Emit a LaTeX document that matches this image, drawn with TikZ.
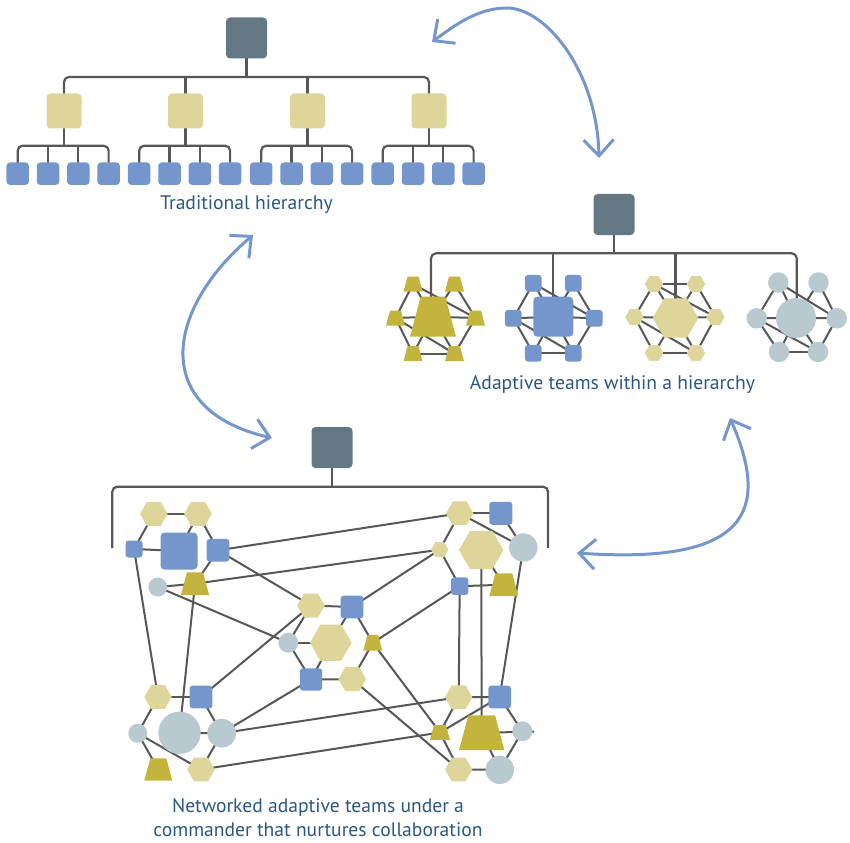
\documentclass[tikz,border=0pt]{standalone}
\usepackage{fontspec}
\setmainfont{PT Sans}
\usetikzlibrary{shapes.geometric,arrows.meta,backgrounds}
\definecolor{slate}{HTML}{637883}
\definecolor{tanc}{HTML}{DDD599}
\definecolor{blu}{HTML}{7596CC}
\definecolor{olv}{HTML}{C2B43C}
\definecolor{gry}{HTML}{B9C9D0}
\definecolor{lnc}{HTML}{575757}
\definecolor{txc}{HTML}{2A5783}
\tikzset{
  boss/.style={rectangle, rounded corners=4pt, fill=slate, minimum size=41pt, inner sep=0pt},
  midsq/.style={rectangle, rounded corners=4pt, fill=tanc, minimum size=35pt, inner sep=0pt},
  leaf/.style={rectangle, rounded corners=3.5pt, fill=blu, minimum size=22.5pt, inner sep=0pt},
  bsq/.style={rectangle, rounded corners=3pt, fill=blu, minimum size=#1, inner sep=0pt},
  hexa/.style={regular polygon, regular polygon sides=6, fill=tanc, minimum size=#1, inner sep=0pt},
  circ/.style={circle, fill=gry, minimum size=#1, inner sep=0pt},
  tree/.style={draw=lnc, line width=2.2pt, rounded corners=5pt},
  net/.style={draw=lnc, line width=2pt},
  arr/.style={draw=blu, line width=3pt,
      {Straight Barb[length=16pt,width=30pt]}-{Straight Barb[length=16pt,width=30pt]}},
  lbl/.style={text=txc, font=\fontsize{19.6}{24}\selectfont, align=center}
}
% name, x, y, bottom width, height
\newcommand\trapnode[5]{%
  \node[inner sep=0pt, minimum width=#4pt, minimum height=#5pt] (#1) at (#2,#3) {};
  \fill[olv] ({#2-#4/2},{#3+#5/2}) -- ({#2+#4/2},{#3+#5/2})
     -- ({#2+#4/2-0.268*#5},{#3-#5/2}) -- ({#2-#4/2+0.268*#5},{#3-#5/2}) -- cycle;
}
\begin{document}
\begin{tikzpicture}[x=1pt,y=-1pt]
\useasboundingbox (0,0) rectangle (850,842);

% ---------------- Traditional hierarchy ----------------
\node[boss] (T0) at (246.5,38) {};
\coordinate (busA) at (0,77);
\coordinate (busB) at (0,145.7);
\foreach \i/\x in {1/64,2/185.5,3/307.5,4/429}{
  \node[midsq] (M\i) at (\x,111) {};
  \node[leaf] (L\i a) at (\x-46.3,173.7) {};
  \node[leaf] (L\i b) at (\x-16,173.7) {};
  \node[leaf] (L\i c) at (\x+14.3,173.7) {};
  \node[leaf] (L\i d) at (\x+44.6,173.7) {};
}
\node[lbl] (txtA) at (246.5,205) {Traditional hierarchy};

\begin{scope}[on background layer]
  \draw[tree] (T0.center) -- (T0 |- busA);
  \draw[tree] (M1.center) -- (M1 |- busA) -- (M4 |- busA) -- (M4.center);
  \draw[tree] (M2.center) -- (M2 |- busA);
  \draw[tree] (M3.center) -- (M3 |- busA);
  \foreach \i in {1,2,3,4}{
    \draw[tree] (M\i.center) -- (M\i |- busB);
    \draw[tree] (L\i a.center) -- (L\i a |- busB) -- (L\i d |- busB) -- (L\i d.center);
    \draw[tree] (L\i b.center) -- (L\i b |- busB);
    \draw[tree] (L\i c.center) -- (L\i c |- busB);
  }
\end{scope}

% ---------------- Adaptive teams within a hierarchy ----------------
\node[boss] (A0) at (614,214.5) {};
\coordinate (busC) at (0,253.3);
% cluster a: trapezia
\trapnode{ac}{433}{316.7}{46}{40}
\trapnode{aTL}{413}{284}{19}{15}
\trapnode{aTR}{454.5}{284}{19}{15}
\trapnode{aL}{395.5}{318}{19}{15}
\trapnode{aR}{475.5}{318}{19}{15}
\trapnode{aBL}{413}{353.7}{19}{15}
\trapnode{aBR}{454.5}{353.7}{19}{15}
% cluster b: squares
\node[bsq=40pt, rounded corners=4pt] (bc) at (553.3,316.7) {};
\node[bsq=16.7pt] (bTL) at (533.3,283.3) {};
\node[bsq=16.7pt] (bTR) at (573.3,283.3) {};
\node[bsq=16.7pt] (bL) at (513.3,318.3) {};
\node[bsq=16.7pt] (bR) at (594.3,318.3) {};
\node[bsq=16.7pt] (bBL) at (533.3,353.3) {};
\node[bsq=16.7pt] (bBR) at (573.3,353.3) {};
% cluster c: hexagons
\node[hexa=45.6pt] (cc) at (675.5,318) {};
\node[hexa=18.4pt] (cTL) at (654,284) {};
\node[hexa=18.4pt] (cTR) at (696,284) {};
\node[hexa=18.4pt] (cL) at (634.5,317) {};
\node[hexa=18.4pt] (cR) at (715.5,317) {};
\node[hexa=18.4pt] (cBL) at (654,353) {};
\node[hexa=18.4pt] (cBR) at (696,353) {};
% cluster d: circles
\node[circ=40pt] (dc) at (796,318) {};
\node[circ=20.5pt] (dTL) at (778.3,282.5) {};
\node[circ=20.5pt] (dTR) at (818.5,282.5) {};
\node[circ=20.5pt] (dL) at (756.7,318.3) {};
\node[circ=20.5pt] (dR) at (836.7,318.3) {};
\node[circ=20.5pt] (dBL) at (779,352) {};
\node[circ=20.5pt] (dBR) at (818,352) {};
\node[lbl] (txtB) at (612.5,385) {Adaptive teams within a hierarchy};

\begin{scope}[on background layer]
  \draw[tree] (A0.center) -- (A0 |- busC);
  \coordinate (adrop) at (431,300);
  \coordinate (ddrop) at (796.7,300);
  \draw[tree] (adrop) -- (adrop |- busC) -- (ddrop |- busC) -- (ddrop);
  \draw[tree] (bc.center) -- (bc |- busC);
  \draw[tree] (cc.center) -- (cc |- busC);
  \foreach \p in {a,b,c,d}{
    \foreach \u/\v in {TL/L, L/BL, BL/BR, BR/R, R/TR, TL/c, TR/c, L/c, R/c, BL/c, BR/c, TL/R, L/BR}{
      \draw[net] (\p\u.center) -- (\p\v.center);
    }
  }
  \draw[net] (cTL.center) -- (cTR.center);
\end{scope}

% ---------------- Networked adaptive teams ----------------
\node[boss] (N0) at (332,447.5) {};
\coordinate (busD) at (0,486.7);
\coordinate (brL) at (112.3,548);
\coordinate (brR) at (548,548);

% top-left cluster
\node[hexa=27.7pt] (H1) at (153.8,513.8) {};
\node[hexa=27.7pt] (H2) at (198,513.8) {};
\node[bsq=17pt] (B1) at (134,549) {};
\node[bsq=37pt, rounded corners=4pt] (B2) at (179,551) {};
\node[bsq=22.7pt] (B3) at (218,550.3) {};
\node[circ=19pt] (C1) at (157.8,587) {};
\trapnode{T1}{195}{583.7}{28.3}{22.7}
% middle cluster
\node[hexa=27.7pt] (H3) at (311,605.5) {};
\node[bsq=22.7pt] (B4) at (352,607) {};
\node[circ=20pt] (C2) at (288.3,642.7) {};
\node[hexa=41.7pt] (H4) at (330.8,642.7) {};
\trapnode{T2}{372.8}{642.8}{19}{15.7}
\node[bsq=22.3pt] (B5) at (311,679.5) {};
\node[hexa=27.7pt] (H5) at (352.2,679.2) {};
% top-right cluster
\node[hexa=27.4pt] (H8) at (459.7,513.3) {};
\node[bsq=23pt] (B7) at (500.8,513.3) {};
\node[hexa=44.4pt] (H9) at (481.2,550) {};
\node[circ=28.4pt] (C6) at (523.3,547.5) {};
\node[hexa=17.4pt] (H10) at (439.7,549.7) {};
\node[bsq=17.5pt] (B8) at (459.7,586.2) {};
\trapnode{T4}{503.8}{584.7}{29}{22.7}
% bottom-left cluster
\node[hexa=27.4pt] (H6) at (158,697) {};
\node[bsq=22.7pt] (B6) at (201,697) {};
\node[circ=19pt] (C3) at (137.8,733.3) {};
\node[circ=42.4pt] (C4) at (179.5,732.8) {};
\node[circ=28.6pt] (C5) at (221.7,733.2) {};
\trapnode{T3}{158.3}{769.5}{28}{22.3}
\node[hexa=27.6pt] (H7) at (201,769.5) {};
% bottom-right cluster
\node[hexa=27.4pt] (H11) at (458.7,697.2) {};
\node[bsq=22.7pt] (B9) at (499.7,697) {};
\trapnode{T5}{440}{732.5}{20}{15}
\trapnode{T6}{481.7}{732.7}{45.3}{34.7}
\node[circ=20pt] (C7) at (522.3,731.3) {};
\coordinate (stub) at (534,731.7);
\node[hexa=27.4pt] (H12) at (458.7,769.5) {};
\node[circ=28.4pt] (C8) at (499.8,769.8) {};

\node[lbl] (txtC) at (318,818) {Networked adaptive teams under a\\commander that nurtures collaboration};

\begin{scope}[on background layer]
  \draw[tree] (N0.center) -- (N0 |- busD);
  \draw[tree] (brL) -- (brL |- busD) -- (brR |- busD) -- (brR);
  \foreach \u/\v in {H1/H2, H1/B1, H2/B2, H2/B3, B1/B2, B3/T1, C1/T1,
      H3/B4, H3/C2, C2/H4, B4/H4, B5/H4, C2/B5, B5/H5, H5/T2, B4/T2,
      H8/B7, B7/C6, H8/C6, H8/H10, H10/B8, B8/T4, H9/T4,
      H11/B9, H11/T5, B9/T5, B9/C7, T6/stub, T5/H12, C7/C8, H12/C8, T6/C8,
      H6/B6, H6/C3, C3/T3, C3/H7, B6/C5, C4/C5, C5/H7,
      B1/H6, T1/C4, B3/H8, B3/H3, T1/H10, C1/C2, B4/H10, T2/B8, T2/T5,
      H3/B6, C5/B5, C5/H11, H7/T5, H5/H12, C6/B9, H9/T6, B8/H11}{
    \draw[net] (\u.center) -- (\v.center);
  }
\end{scope}

% ---------------- arrows ----------------
\coordinate (a1s) at (432,42);
\coordinate (a1m) at (507,8);
\coordinate (a1e) at (599,158);
\draw[arr] (a1s) .. controls (455,25) and (478,8) .. (a1m) .. controls (545,8) and (597,70) .. (a1e);
\coordinate (a2s) at (253,235);
\coordinate (a2e) at (272,438);
\draw[arr] (a2s) .. controls (165,310) and (150,410) .. (a2e);
\coordinate (a3s) at (730,418);
\coordinate (a3e) at (577,553);
\draw[arr] (a3s) .. controls (770,510) and (750,565) .. (a3e);
\end{tikzpicture}
\end{document}
